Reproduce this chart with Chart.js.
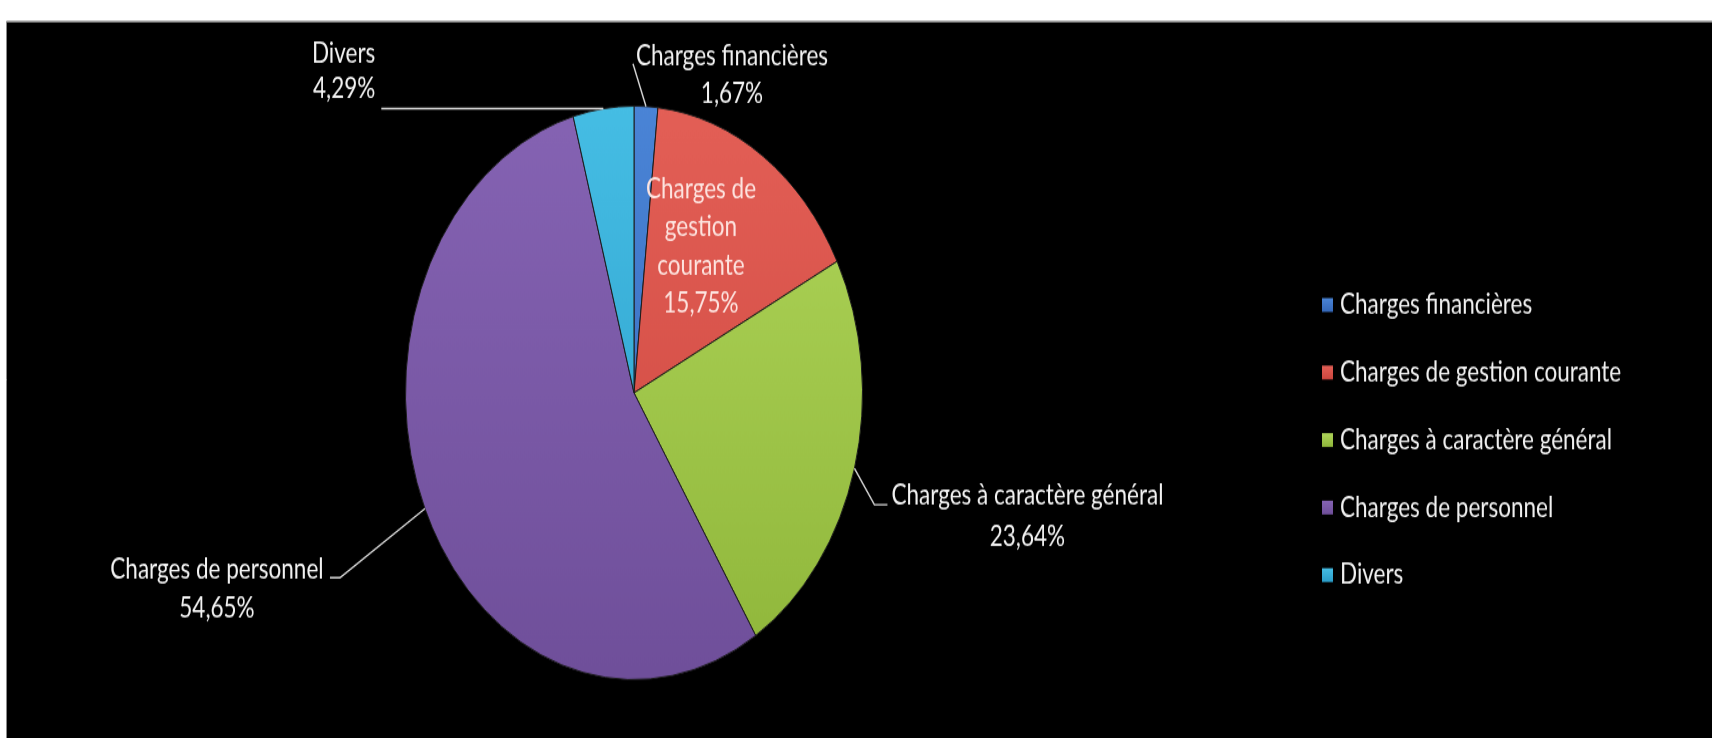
<!DOCTYPE html>
<html>
<head>
<meta charset="utf-8">
<script src="https://cdn.jsdelivr.net/npm/chart.js@4.4.1/dist/chart.umd.min.js"></script>
<style>
  html { overflow: hidden; }
  html, body { margin: 0; padding: 0; background: #fff; }
  body { height: 738px; }
  /* the original picture is stretched vertically, so we stretch the canvas too */
  #wrap { width: 1712px; height: 588px; transform: scaleY(1.2551); transform-origin: 0 0; }
</style>
</head>
<body>
<div id="wrap"><canvas id="pieChart" width="1712" height="588"></canvas></div>
<script>
var labels = ['Charges financières', 'Charges de gestion courante', 'Charges à caractère général', 'Charges de personnel', 'Divers'];
var values = [1.67, 15.75, 23.64, 54.65, 4.29];
var topColors = ['#4a84d6', '#e35f56', '#b0d65a', '#8563b3', '#45bde4'];
var bottomColors = ['#3467b8', '#cc463e', '#8fb63a', '#6f4f9a', '#2a9cc8'];

var FONT = '22.5px Lato';

function pct(v) {
    return v.toFixed(2).replace('.', ',') + '%';
}

// label text lines and where they sit, relative to the point on the rim at the middle of the slice
var labelLayout = [
    { lines: [labels[0]], leader: [[-13, -34]], text: [86, -40], align: 'center', lh: 30 },
    { lines: ['Charges de', 'gestion', 'courante'], leader: null, text: [-62, 26], align: 'center', lh: 30.5, color: '#fde3df' },
    { lines: [labels[2]], leader: [[20, 29], [33, 29]], text: [173, 22], align: 'center', lh: 33 },
    { lines: [labels[3]], leader: [[-85, 55], [-95, 55]], text: [-208, 48], align: 'center', lh: 31 },
    { lines: [labels[4]], leader: [[-222, 0]], text: [-228, -44], align: 'right', lh: 28 }
];

var backgroundPlugin = {
    id: 'background',
    beforeDraw: function(chart) {
        var c = chart.ctx;
        c.save();
        c.fillStyle = '#ffffff';
        c.fillRect(0, 0, chart.width, chart.height);
        c.fillStyle = '#000000';
        c.fillRect(7, 17.5, chart.width - 7, chart.height);
        c.strokeStyle = '#8a8a8a';
        c.lineWidth = 1;
        c.beginPath();
        c.moveTo(6.5, chart.height);
        c.lineTo(6.5, 17);
        c.lineTo(chart.width, 17);
        c.stroke();
        c.restore();
    }
};

var labelPlugin = {
    id: 'sliceLabels',
    afterDatasetsDraw: function(chart) {
        var c = chart.ctx;
        var meta = chart.getDatasetMeta(0);
        c.save();
        c.font = FONT;
        c.textBaseline = 'middle';
        meta.data.forEach(function(arc, i) {
            var p = arc.getProps(['x', 'y', 'startAngle', 'endAngle', 'outerRadius'], true);
            var mid = (p.startAngle + p.endAngle) / 2;
            var ex = p.x + Math.cos(mid) * p.outerRadius;
            var ey = p.y + Math.sin(mid) * p.outerRadius;
            var lay = labelLayout[i];

            if (lay.leader) {
                c.strokeStyle = '#d9d9d9';
                c.lineWidth = 1.4;
                c.beginPath();
                c.moveTo(ex, ey);
                lay.leader.forEach(function(pt) { c.lineTo(ex + pt[0], ey + pt[1]); });
                c.stroke();
            }

            var lines = lay.lines.concat([pct(values[i])]);
            c.fillStyle = lay.color || '#f2f2f2';
            c.textAlign = lay.align;
            lines.forEach(function(t, k) {
                c.fillText(t, ex + lay.text[0], ey + lay.text[1] + k * lay.lh);
            });
        });
        c.restore();
    }
};

var legendPlugin = {
    id: 'sideLegend',
    afterDraw: function(chart) {
        var c = chart.ctx;
        c.save();
        c.font = FONT;
        c.textBaseline = 'middle';
        c.textAlign = 'left';
        labels.forEach(function(l, i) {
            var y = 243 + i * 53.8;
            var g = c.createLinearGradient(0, y - 5.5, 0, y + 5.5);
            g.addColorStop(0, topColors[i]);
            g.addColorStop(1, bottomColors[i]);
            c.fillStyle = g;
            c.fillRect(1322, y - 5.5, 11, 11);
            c.fillStyle = '#f0f0f0';
            c.fillText(l, 1340, y);
        });
        c.restore();
    }
};

var ctx = document.getElementById('pieChart').getContext('2d');
var myChart = new Chart(ctx, {
    type: 'pie',
    data: {
        labels: labels,
        datasets: [{
            data: values,
            backgroundColor: function(context) {
                var i = context.dataIndex;
                var area = context.chart.chartArea;
                if (!area) return topColors[i];
                var g = context.chart.ctx.createLinearGradient(0, area.top, 0, area.bottom);
                g.addColorStop(0, topColors[i]);
                g.addColorStop(1, bottomColors[i]);
                return g;
            },
            borderColor: '#1c1c1c',
            borderWidth: 1
        }]
    },
    options: {
        responsive: false,
        animation: false,
        layout: {
            padding: { left: 405, right: 849, top: 84, bottom: 46 }
        },
        plugins: {
            legend: { display: false },
            tooltip: { enabled: false }
        }
    },
    plugins: [backgroundPlugin, labelPlugin, legendPlugin]
});
</script>
</body>
</html>
